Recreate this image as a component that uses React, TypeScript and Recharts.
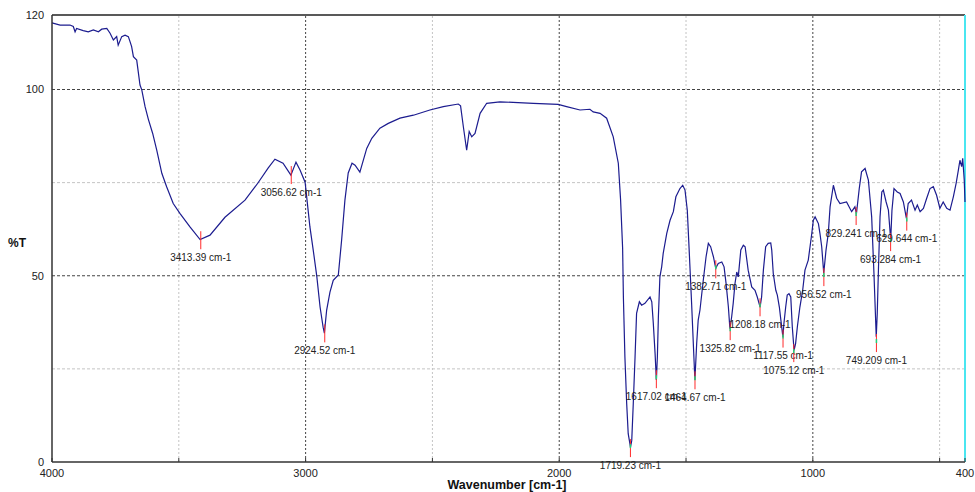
import { ComposedChart, Line, Scatter, XAxis, YAxis, ReferenceLine } from "recharts"

// spectrum (cm-1 / %T)
const wavenumber = [
  4000, 3968, 3929, 3916, 3909, 3903, 3877, 3857, 3837, 3817, 3804, 3784, 3771, 3758, 3745, 3739, 3725, 3712, 3699, 3692,
  3686, 3679, 3666, 3660, 3653, 3646, 3633, 3620, 3603, 3587, 3567, 3548, 3522, 3495, 3456, 3416, 3377, 3318, 3239, 3188,
  3148, 3121, 3089, 3058, 3038, 3022, 3002, 2983, 2970, 2956, 2943, 2931, 2926, 2917, 2904, 2891, 2871, 2858, 2845, 2832,
  2817, 2805, 2786, 2759, 2739, 2707, 2674, 2628, 2575, 2510, 2457, 2398, 2389, 2378, 2365, 2355, 2345, 2332, 2312, 2286,
  2234, 2102, 2004, 1971, 1918, 1879, 1866, 1839, 1813, 1787, 1767, 1758, 1750, 1747, 1741, 1734, 1728, 1719, 1714, 1708,
  1701, 1695, 1684, 1675, 1662, 1642, 1635, 1629, 1622, 1617, 1613, 1609, 1603, 1596, 1590, 1576, 1563, 1550, 1540, 1524,
  1513, 1504, 1495, 1487, 1478, 1469, 1465, 1458, 1452, 1445, 1432, 1421, 1412, 1403, 1392, 1383, 1373, 1359, 1350, 1342,
  1333, 1327, 1320, 1314, 1307, 1300, 1294, 1284, 1274, 1267, 1255, 1241, 1228, 1219, 1208, 1202, 1195, 1186, 1176, 1166,
  1162, 1156, 1146, 1140, 1132, 1126, 1118, 1114, 1107, 1101, 1094, 1087, 1081, 1074, 1068, 1061, 1051, 1040, 1031, 1018,
  1004, 998, 991, 978, 972, 965, 957, 948, 939, 932, 919, 906, 893, 867, 847, 834, 828, 817, 808, 794,
  781, 768, 759, 750, 746, 741, 735, 728, 722, 711, 702, 693, 688, 680, 667, 656, 643, 631, 624, 611,
  597, 588, 577, 564, 551, 538, 525, 512, 499, 486, 472, 459, 446, 435, 426, 420, 413, 409, 403, 400,
]
const transmittance = [
  117.9, 117.3, 117.3, 116.9, 115.5, 116.4, 115.8, 115.5, 116.0, 115.5, 116.2, 116.4, 115.1, 113.3, 114.2, 111.9, 114.2, 114.6, 114.2, 112.8,
  111.5, 108.8, 107.9, 104.8, 101.2, 99.9, 95.4, 92.0, 88.2, 83.7, 77.5, 73.9, 69.4, 66.7, 63.1, 59.7, 60.9, 65.7, 70.3, 74.9,
  78.9, 81.3, 80.2, 77.0, 80.5, 78.4, 75.1, 63.1, 56.9, 49.9, 41.6, 36.2, 34.6, 40.8, 45.6, 48.8, 50.2, 59.6, 70.3, 77.6,
  80.2, 79.7, 77.8, 84.2, 86.9, 89.6, 90.9, 92.3, 93.1, 94.5, 95.4, 96.1, 95.6, 90.0, 83.7, 88.7, 87.3, 88.2, 93.6, 96.3,
  96.7, 96.3, 96.0, 95.4, 94.5, 94.7, 94.0, 93.6, 92.3, 87.3, 80.2, 70.3, 57.4, 44.3, 28.2, 15.7, 7.6, 4.0, 5.8, 15.7,
  28.2, 39.9, 43.0, 42.1, 42.6, 44.3, 43.0, 37.2, 29.1, 22.0, 28.2, 39.0, 49.7, 52.4, 56.0, 61.4, 64.9, 67.2, 71.2, 73.4,
  74.3, 73.0, 67.6, 56.0, 42.6, 28.2, 22.0, 31.8, 38.1, 40.8, 48.8, 55.1, 58.7, 57.8, 55.1, 52.0, 53.3, 53.7, 52.4, 47.9,
  41.6, 35.8, 39.0, 42.6, 47.9, 51.0, 49.7, 56.9, 58.2, 57.8, 51.5, 47.0, 46.1, 44.3, 41.6, 44.3, 51.5, 57.8, 58.7, 58.8,
  56.9, 50.6, 46.1, 44.8, 41.6, 38.1, 33.6, 37.2, 41.6, 44.8, 45.2, 44.3, 36.3, 30.0, 31.8, 36.3, 41.6, 46.1, 51.5, 54.2,
  61.4, 64.9, 65.8, 64.0, 61.4, 57.8, 50.7, 56.9, 61.4, 68.5, 74.3, 70.8, 69.4, 69.8, 67.2, 68.5, 66.7, 73.4, 77.9, 78.8,
  75.7, 65.8, 50.6, 33.6, 39.9, 52.4, 65.8, 72.5, 73.0, 69.8, 67.6, 59.6, 67.6, 73.4, 72.5, 72.1, 69.8, 65.4, 69.4, 70.3,
  67.6, 69.0, 67.2, 68.1, 70.8, 73.4, 73.9, 71.6, 68.1, 69.8, 68.1, 67.6, 71.2, 74.8, 78.4, 81.0, 79.3, 81.5, 75.7, 69.8,
]

// picked peaks
const peakWavenumber = [3413.39, 3056.62, 2924.52, 1719.23, 1617.02, 1464.67, 1382.71, 1325.82, 1208.18, 1117.55, 1075.12, 956.52, 829.241, 749.209, 693.284, 629.644]
const peakTransmittance = [59.8, 77.3, 34.8, 4.0, 22.5, 22.2, 52.0, 35.4, 41.8, 33.4, 29.5, 49.9, 66.3, 32.2, 59.3, 64.8]
const peakLabels = peakWavenumber.map((w) => `${w} cm-1`)

const xTicks = [4000, 3500, 3000, 2500, 2000, 1500, 1000, 500, 400]
const xTickLabels = [4000, 3000, 2000, 1000, 400]
const yTicks = [0, 50, 100, 120]
const majorGridX = [3000, 2000, 1000]
const minorGridX = [3500, 2500, 1500, 500]
const majorGridY = [100, 50]
const minorGridY = [75, 25]

const spectrum = wavenumber.map((wn, i) => ({ wn, t: transmittance[i] }))
const peaks = peakWavenumber.map((wn, i) => ({ wn, t: peakTransmittance[i], label: peakLabels[i] }))

const FONT = "'Liberation Sans', Arial, sans-serif"

function PeakMarker(props: any) {
  const { cx, cy, payload } = props
  if (cx == null || cy == null) return null
  const fingerprint = payload.wn < 2000
  return (
    <g>
      <line x1={cx} y1={cy - 8} x2={cx} y2={cy + 10} stroke="#ff2a2a" strokeWidth={1} />
      {fingerprint && <line x1={cx} y1={cy - 3} x2={cx} y2={cy + 1} stroke="#22d07a" strokeWidth={1.5} />}
      <text x={cx} y={cy + 18} textAnchor="middle" dominantBaseline="central" fontSize={10} fill="#222" fontFamily={FONT}>
        {payload.label}
      </text>
    </g>
  )
}

export default function App() {
  return (
    <div style={{ position: "absolute", left: 0, top: 0, width: 975, height: 492, background: "#fff", fontFamily: FONT }}>
      <ComposedChart width={975} height={492} margin={{ top: 15, right: 10, bottom: 0, left: 0 }}>
        <XAxis
          type="number"
          dataKey="wn"
          domain={[400, 4000]}
          reversed
          ticks={xTicks}
          tickFormatter={(v: number) => (xTickLabels.includes(v) ? String(v) : "")}
          tickSize={-4}
          tickMargin={11}
          height={30}
          axisLine={{ stroke: "#666", strokeWidth: 2 }}
          tickLine={{ stroke: "#333" }}
          tick={{ fontSize: 11, fill: "#222", fontFamily: FONT }}
        />
        <YAxis
          type="number"
          dataKey="t"
          domain={[0, 120]}
          ticks={yTicks}
          width={52}
          tickLine={false}
          axisLine={{ stroke: "#333", strokeWidth: 1.5 }}
          tick={{ fontSize: 11, fill: "#222", fontFamily: FONT }}
        />
        {minorGridX.map((x) => (
          <ReferenceLine key={"mx" + x} x={x} stroke="#c4c4c4" strokeDasharray="2 2" />
        ))}
        {minorGridY.map((y) => (
          <ReferenceLine key={"my" + y} y={y} stroke="#c4c4c4" strokeDasharray="3 2" />
        ))}
        {majorGridX.map((x) => (
          <ReferenceLine key={"gx" + x} x={x} stroke="#444" strokeDasharray="2 2" />
        ))}
        {majorGridY.map((y) => (
          <ReferenceLine key={"gy" + y} y={y} stroke="#444" strokeDasharray="3 2" />
        ))}
        <ReferenceLine y={120} stroke="#222" strokeWidth={1.5} />
        <ReferenceLine x={400} stroke="#4ae6f0" strokeWidth={2} />
        <Line
          data={spectrum}
          type="linear"
          dataKey="t"
          stroke="#1c1c8f"
          strokeWidth={1.2}
          dot={false}
          isAnimationActive={false}
        />
        <Scatter data={peaks} dataKey="t" shape={PeakMarker} isAnimationActive={false} />
      </ComposedChart>
      <div style={{ position: "absolute", left: 8, top: 236, fontSize: 12, fontWeight: "bold", color: "#111" }}>%T</div>
      <div
        style={{
          position: "absolute",
          left: 0,
          width: 1014,
          top: 479,
          lineHeight: "13px",
          textAlign: "center",
          fontSize: 12.5,
          fontWeight: "bold",
          color: "#111",
        }}
      >
        Wavenumber [cm-1]
      </div>
    </div>
  )
}
